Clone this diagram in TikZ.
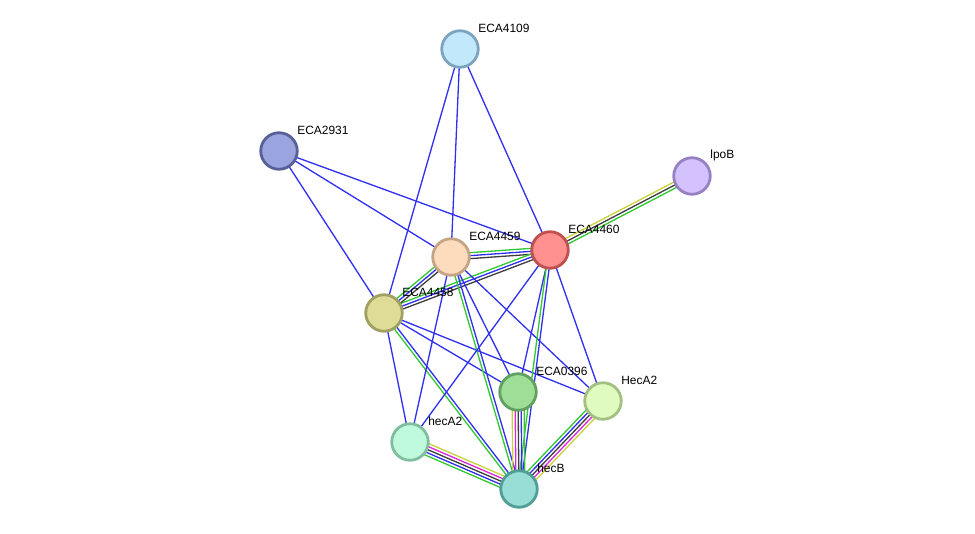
\documentclass[tikz,border=0pt]{standalone}
\usepackage{fontspec}
\setmainfont{Liberation Sans}
\usetikzlibrary{calc}
\pgfdeclarelayer{background}
\pgfsetlayers{background,main}
% parallel evidence lines between two proteins
\newcommand{\ppilink}[3]{%
  \pgfmathtruncatemacro\ppinum{0}%
  \foreach \c in {#3}{\pgfmathtruncatemacro\ppitmp{\ppinum+1}\global\let\ppinum\ppitmp}%
  \foreach \c [count=\i] in {#3}{%
    \pgfmathsetmacro\ppioff{(\i-(\ppinum+1)/2)*1.7}%
    \draw[ppi, color=\c] ($(#1)!\ppioff pt!90:(#2)$) -- ($(#2)!\ppioff pt!-90:(#1)$);}}
\begin{document}
\begin{tikzpicture}[x=0.02cm, y=-0.02cm, line cap=round,
    protein/.style={circle, minimum size=0.73cm, inner sep=0pt, line width=1.6pt},
    ppi/.style={line width=0.75pt},
    lbl/.style={anchor=west, inner sep=0pt, font=\fontsize{6.8}{8}\selectfont}]
  \definecolor{netblue}{RGB}{48,48,240}
  \definecolor{netgreen}{RGB}{50,200,50}
  \definecolor{netgrey}{RGB}{62,62,62}
  \definecolor{netpink}{RGB}{220,40,220}
  \definecolor{netolive}{RGB}{200,210,60}
  \definecolor{ECA4109fill}{RGB}{194,232,251}\definecolor{ECA4109line}{RGB}{124,164,190}
  \definecolor{ECA2931fill}{RGB}{154,165,224}\definecolor{ECA2931line}{RGB}{88,96,152}
  \definecolor{lpoBfill}{RGB}{212,194,255}\definecolor{lpoBline}{RGB}{150,130,195}
  \definecolor{ECA4460fill}{RGB}{255,144,144}\definecolor{ECA4460line}{RGB}{192,80,80}
  \definecolor{ECA4459fill}{RGB}{253,220,190}\definecolor{ECA4459line}{RGB}{196,164,132}
  \definecolor{ECA4458fill}{RGB}{222,220,150}\definecolor{ECA4458line}{RGB}{160,160,96}
  \definecolor{ECA0396fill}{RGB}{158,222,150}\definecolor{ECA0396line}{RGB}{96,160,96}
  \definecolor{HecA2fill}{RGB}{224,251,192}\definecolor{HecA2line}{RGB}{162,192,128}
  \definecolor{hecA2fill}{RGB}{192,250,220}\definecolor{hecA2line}{RGB}{128,190,160}
  \definecolor{hecBfill}{RGB}{152,221,214}\definecolor{hecBline}{RGB}{80,158,150}
  \useasboundingbox (0,0) rectangle (975,534);
  \foreach \p/\x/\y in {ECA4109/460/49, ECA2931/279/151, lpoB/692/176,
      ECA4460/550/250, ECA4459/451/257, ECA4458/384/313, ECA0396/518/392,
      HecA2/603/401, hecA2/410/442, hecB/519/489}{
    \node[protein, fill=\p fill, draw=\p line] (\p) at (\x,\y) {};
    \node[lbl] (\p-lbl) at (\x+18,\y-21) {\p};
  }
  \begin{pgfonlayer}{background}
    \ppilink{ECA4109}{ECA4458}{netblue}
    \ppilink{ECA4109}{ECA4459}{netblue}
    \ppilink{ECA4109}{ECA4460}{netblue}
    \ppilink{ECA2931}{ECA4458}{netblue}
    \ppilink{ECA2931}{ECA4459}{netblue}
    \ppilink{ECA2931}{ECA4460}{netblue}
    \ppilink{ECA4460}{lpoB}{netgreen,netgrey,netolive}
    \ppilink{ECA4460}{ECA4459}{netgreen,netblue,netgrey}
    \ppilink{ECA4460}{ECA4458}{netgreen,netblue,netgrey}
    \ppilink{ECA4459}{ECA4458}{netgreen,netblue,netgrey}
    \ppilink{ECA4458}{hecA2}{netblue}
    \ppilink{ECA4458}{ECA0396}{netblue}
    \ppilink{ECA4458}{HecA2}{netblue}
    \ppilink{ECA4458}{hecB}{netgreen,netblue}
    \ppilink{ECA4459}{hecA2}{netblue}
    \ppilink{ECA4459}{ECA0396}{netblue}
    \ppilink{ECA4459}{HecA2}{netblue}
    \ppilink{ECA4459}{hecB}{netgreen,netblue}
    \ppilink{ECA4460}{hecA2}{netblue}
    \ppilink{ECA4460}{ECA0396}{netblue}
    \ppilink{ECA4460}{HecA2}{netblue}
    \ppilink{ECA4460}{hecB}{netgreen,netblue}
    \ppilink{hecB}{ECA0396}{netgreen,netblue,netgrey,netpink,netolive}
    \ppilink{HecA2}{hecB}{netgreen,netblue,netgrey,netpink,netolive}
    \ppilink{hecA2}{hecB}{netgreen,netblue,netgrey,netpink,netolive}
  \end{pgfonlayer}
\end{tikzpicture}
\end{document}
